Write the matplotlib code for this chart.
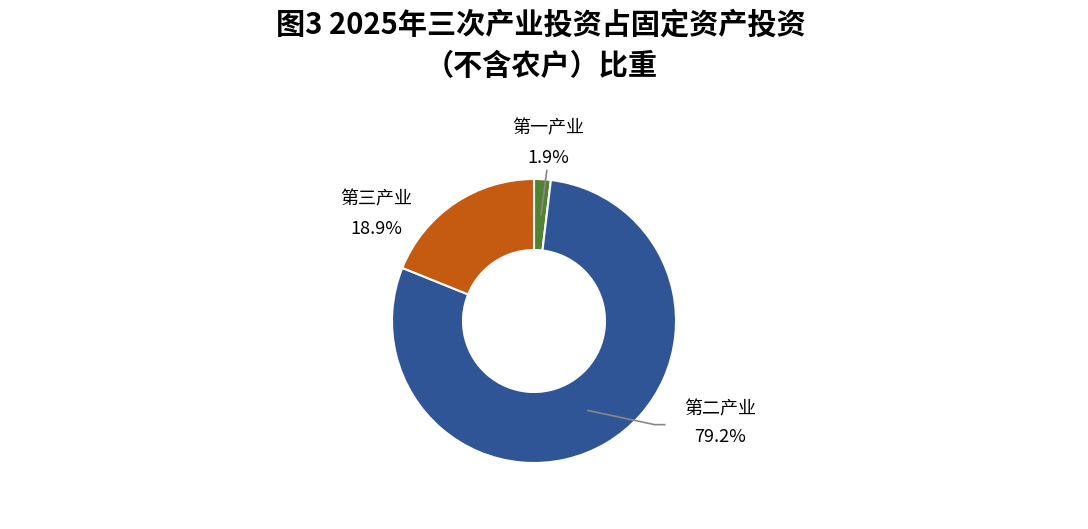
import matplotlib
matplotlib.use("Agg")
import matplotlib.pyplot as plt

plt.rcParams['font.family'] = ['Noto Sans CJK SC', 'DejaVu Sans']

categories = ["第一产业", "第二产业", "第三产业"]
values = [1.9, 79.2, 18.9]
colors = ["#548235", "#2F5597", "#C55A11"]

fig = plt.figure(figsize=(10.88, 5.29), dpi=100)
fig.text(0.497, 1 - 25/529, "图3 2025年三次产业投资占固定资产投资", ha='center', va='center',
         fontsize=21, fontweight='bold')
fig.text(0.497, 1 - 66/529, "（不含农户）比重", ha='center', va='center',
         fontsize=21, fontweight='bold')

cx, cy = 534/1088, 1 - 321/529
w, h = 426/1088, 426/529
ax = fig.add_axes([cx - w/2, cy - h/2, w, h])
ax.pie(values, colors=colors, startangle=90, counterclock=False,
       wedgeprops=dict(width=0.5, edgecolor='white', linewidth=1.5))
ax.set_xlim(-1.5, 1.5)
ax.set_ylim(-1.5, 1.5)
ax.set_aspect('equal')
ax.axis('off')

labpos = {"第一产业": (0.10, 1.36, 1.15), "第二产业": (1.31, -0.62, -0.82), "第三产业": (-1.11, 0.86, 0.65)}
for c, v in zip(categories, values):
    x, y1, y2 = labpos[c]
    ax.text(x, y1, c, ha='center', va='center', fontsize=13, clip_on=False)
    ax.text(x, y2, f"{v}%", ha='center', va='center', fontsize=13, clip_on=False)

ax.plot([0.05, 0.09], [0.75, 1.06], color='#888888', lw=1.2)
ax.plot([0.38, 0.85, 0.92], [-0.63, -0.73, -0.73], color='#888888', lw=1.2)

fig.savefig("out.png", dpi=100)
